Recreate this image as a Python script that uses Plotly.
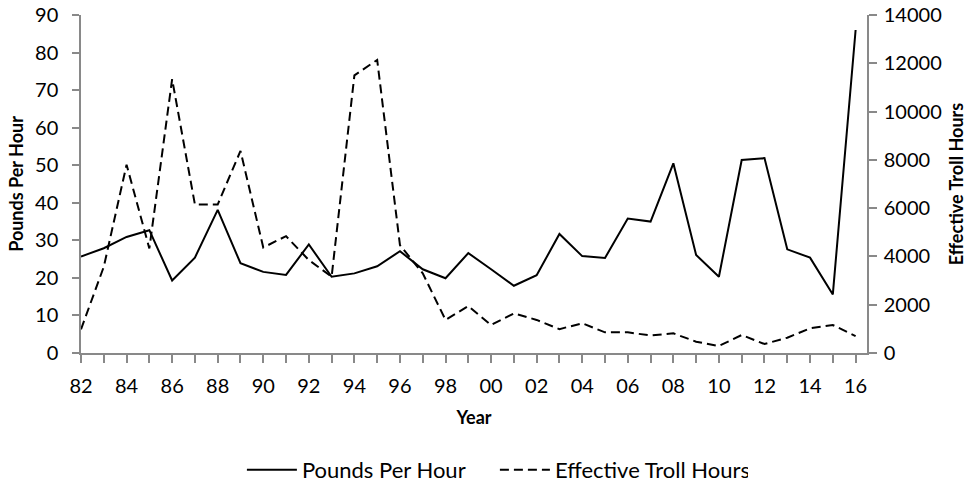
import plotly.graph_objects as go

years = list(range(1982, 2017))
pounds_per_hour = [25.7, 27.9, 30.9, 32.7, 19.3, 25.4, 38.1, 23.9, 21.6, 20.8,
                   28.9, 20.3, 21.2, 23.1, 27.1, 22.3, 19.9, 26.6, 22.3, 17.9,
                   20.7, 31.7, 25.8, 25.3, 35.8, 35.0, 50.5, 26.1, 20.3, 51.4,
                   51.9, 27.6, 25.4, 15.6, 86.0]
troll_hours = [980, 3570, 7800, 4330, 11340, 6150, 6150, 8370, 4370, 4840,
               3850, 3160, 11500, 12140, 4470, 3300, 1370, 1945, 1160, 1640,
               1370, 990, 1230, 855, 855, 725, 814, 469, 290, 745,
               372, 634, 1021, 1159, 703]
tick_years = list(range(1982, 2017, 2))
tick_labels = ["82", "84", "86", "88", "90", "92", "94", "96", "98", "00",
               "02", "04", "06", "08", "10", "12", "14", "16"]

FONT = "Lato"
AXIS_COLOR = "#898989"

fig = go.Figure()
fig.add_trace(go.Scatter(x=years, y=pounds_per_hour, name="Pounds Per Hour",
                         mode="lines", line=dict(color="black", width=2),
                         yaxis="y"))
fig.add_trace(go.Scatter(x=years, y=troll_hours, name="Effective Troll Hours",
                         mode="lines", line=dict(color="black", width=2, dash="9px,5px"),
                         yaxis="y2"))

fig.update_layout(
    width=980, height=494,
    margin=dict(l=81, r=113, t=15, b=141, autoexpand=False),
    paper_bgcolor="white", plot_bgcolor="white",
    font=dict(family=FONT, size=20, color="black"),
    showlegend=True,
    legend=dict(orientation="h", xref="container", yref="container",
                x=0.505, xanchor="center", y=0.0486, yanchor="middle",
                font=dict(family=FONT, size=22, color="black"),
                itemwidth=50, entrywidth=188, tracegroupgap=0),
    xaxis=dict(range=[1982, 2016.5], tickvals=tick_years, ticktext=tick_labels,
               automargin=False,
               showgrid=False, zeroline=False, showline=True,
               linecolor=AXIS_COLOR, linewidth=1.5,
               ticks="outside", ticklen=8, tickcolor=AXIS_COLOR, tickwidth=1.5,
               minor=dict(dtick=1, tick0=1982, ticks="outside", ticklen=8,
                          tickcolor=AXIS_COLOR, tickwidth=1.5, showgrid=False),
               ticklabelstandoff=6,
               title=dict(text="<b>Year</b>", font=dict(family=FONT, size=18),
                          standoff=16)),
    yaxis=dict(range=[0, 90], dtick=10, showgrid=False, zeroline=False,
               automargin=False,
               showline=True, linecolor=AXIS_COLOR, linewidth=1.5,
               ticks="outside", ticklen=7, tickcolor=AXIS_COLOR, tickwidth=1.5,
               ticklabelstandoff=10,
               title=dict(text="<b>Pounds Per Hour</b>", font=dict(family=FONT, size=18),
                          standoff=7)),
    yaxis2=dict(range=[0, 14000], dtick=2000, overlaying="y", side="right",
                tickformat="d", automargin=False,
                showgrid=False, zeroline=False, showline=True,
                linecolor=AXIS_COLOR, linewidth=1.5,
                ticks="outside", ticklen=8, tickcolor=AXIS_COLOR, tickwidth=1.5,
                ticklabelstandoff=3,
                title=dict(text="<b>Effective Troll Hours</b>", font=dict(family=FONT, size=18),
                           standoff=10)),
)

fig.write_html("out.html", config={"displayModeBar": False},
               post_script="document.body.style.margin='0';")
